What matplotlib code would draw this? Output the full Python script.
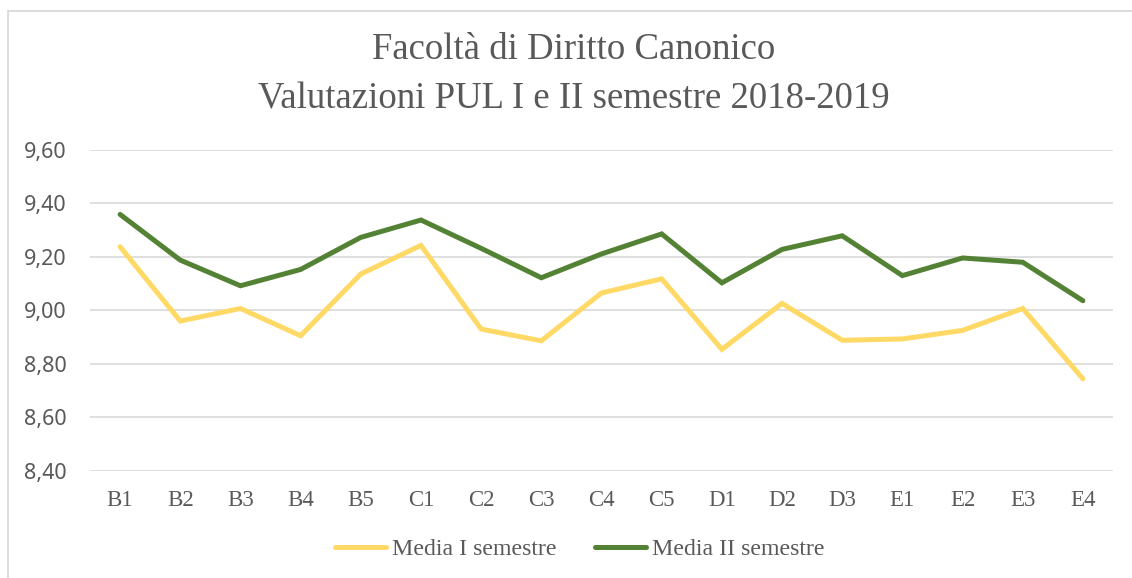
import matplotlib
matplotlib.use("Agg")
import matplotlib.pyplot as plt
from matplotlib.lines import Line2D
from matplotlib.ticker import FuncFormatter

corsi = ["B1", "B2", "B3", "B4", "B5", "C1", "C2", "C3", "C4", "C5",
         "D1", "D2", "D3", "E1", "E2", "E3", "E4"]
media_I = [9.238, 8.960, 9.007, 8.905, 9.136, 9.243, 8.930, 8.886, 9.065,
           9.118, 8.854, 9.026, 8.888, 8.893, 8.925, 9.007, 8.744]
media_II = [9.359, 9.188, 9.092, 9.153, 9.273, 9.338, 9.232, 9.122, 9.211,
            9.286, 9.103, 9.228, 9.279, 9.130, 9.196, 9.180, 9.036]
y_ticks = [8.40, 8.60, 8.80, 9.00, 9.20, 9.40, 9.60]

grigio = "#595959"
serif = ["Liberation Serif", "DejaVu Serif"]

W, H = 1132, 578
fig = plt.figure(figsize=(W / 100, H / 100), dpi=100)
ax = fig.add_axes([90 / W, 1 - 470.7 / H, (1113 - 90) / W, (470.7 - 150) / H])

x = list(range(len(corsi)))
ax.plot(x, media_I, color="#FFD966", lw=3.6, label="Media I semestre",
        solid_capstyle="round", solid_joinstyle="miter")
ax.plot(x, media_II, color="#548235", lw=3.6, label="Media II semestre",
        solid_capstyle="round", solid_joinstyle="miter")

ax.set_xlim(-0.5, len(corsi) - 0.5)
ax.set_ylim(8.40, 9.60)
ax.set_yticks(y_ticks)
ax.yaxis.set_major_formatter(FuncFormatter(lambda v, p: ("%.2f" % v).replace(".", ",")))
ax.set_xticks(x)
ax.set_xticklabels(corsi, family=serif, fontsize=16.5, color=grigio)
for t in ax.get_yticklabels():
    t.set_family(["Noto Sans", "DejaVu Sans"])
    t.set_fontsize(15.5)
    t.set_color(grigio)
ax.tick_params(axis="both", length=0)
ax.tick_params(axis="x", pad=14)
ax.tick_params(axis="y", pad=17)
ax.grid(axis="y", color="#D9D9D9", lw=1.2)
ax.set_axisbelow(True)
for s in ax.spines.values():
    s.set_visible(False)

fig.text(574 / W, 1 - 74.5 / H, "Facoltà di Diritto Canonico\nValutazioni PUL I e II semestre 2018-2019",
         ha="center", va="center", fontsize=26.5, family=serif, color=grigio,
         linespacing=1.55)

leg = fig.legend(loc="center", bbox_to_anchor=(580 / W, 1 - 549 / H), ncol=2,
                 frameon=False, prop={"family": serif, "size": 17.2},
                 handlelength=2.15, handletextpad=0.25, columnspacing=1.6)
for t in leg.get_texts():
    t.set_color(grigio)

# bordo del grafico (solo lato sinistro e superiore visibili)
xb, yb = 7.5 / W, 1 - 11 / H
fig.add_artist(Line2D([xb, xb], [-0.05, yb], transform=fig.transFigure, color="#D9D9D9", lw=1.3))
fig.add_artist(Line2D([xb, 1.05], [yb, yb], transform=fig.transFigure, color="#D9D9D9", lw=1.3))

fig.savefig("out.png", dpi=100)
